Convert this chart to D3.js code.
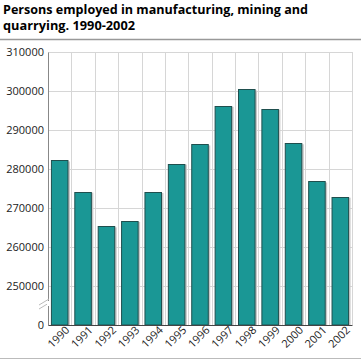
<!DOCTYPE html>
<html>
<head>
<meta charset="utf-8">
<script src="https://cdn.jsdelivr.net/npm/d3@7"></script>
<style>
  body { margin: 0; background: #fff; }
  svg { font-family: "Open Sans", "Noto Sans", sans-serif; }
</style>
</head>
<body>
<svg id="chart" width="361" height="361"></svg>
<script>
const years = ["1990", "1991", "1992", "1993", "1994", "1995", "1996", "1997", "1998", "1999", "2000", "2001", "2002"];
const employed = [282200, 274200, 265300, 266700, 274100, 281400, 286300, 296200, 300400, 295500, 286600, 276800, 272900];
const yTicks = [0, 250000, 260000, 270000, 280000, 290000, 300000, 310000];
const titleLines = ["Persons employed in manufacturing, mining and", "quarrying. 1990-2002"];

const w = 361, h = 361;
const plotLeft = 48, plotRight = 352, plotTop = 52, plotBottom = 325;

const svg = d3.select("#chart");

// title, one text per line
const titleWidths = [305, 132];
svg.append("g").selectAll("text")
  .data(titleLines)
  .enter().append("text")
  .attr("x", 3)
  .attr("y", (d, i) => 14 + i * 16)
  .attr("font-size", 12.5)
  .attr("font-weight", "bold")
  .attr("fill", "#000")
  .attr("textLength", (d, i) => titleWidths[i])
  .attr("lengthAdjust", "spacingAndGlyphs")
  .text(d => d);

svg.append("line").attr("x1", 0).attr("x2", w).attr("y1", 39.5).attr("y2", 39.5)
  .attr("stroke", "#999").attr("stroke-width", 1.5);
svg.append("line").attr("x1", 0).attr("x2", w).attr("y1", 358.5).attr("y2", 358.5)
  .attr("stroke", "#bbb").attr("stroke-width", 1);

// broken axis: 0 sits one tick below 250000
const y = d3.scaleLinear()
  .domain([0, 250000, 310000])
  .range([plotBottom, 286, plotTop]);

const x = d3.scaleBand()
  .domain(years)
  .range([plotLeft, plotRight])
  .paddingInner(0.25)
  .paddingOuter(0.125);

// grid
const grid = svg.append("g");
grid.selectAll("line.h")
  .data(yTicks.filter(d => d > 0))
  .enter().append("line")
  .attr("x1", plotLeft).attr("x2", plotRight)
  .attr("y1", d => Math.round(y(d)) + 0.5).attr("y2", d => Math.round(y(d)) + 0.5)
  .attr("stroke", "#d6d6d6");
const step = x.step();
grid.selectAll("line.v")
  .data(d3.range(years.length + 1))
  .enter().append("line")
  .attr("x1", i => Math.round(plotLeft + i * step) + 0.5)
  .attr("x2", i => Math.round(plotLeft + i * step) + 0.5)
  .attr("y1", plotTop).attr("y2", plotBottom)
  .attr("stroke", "#d6d6d6");

// bars with a faint shadow
svg.append("g").selectAll("rect")
  .data(employed)
  .enter().append("rect")
  .attr("x", (d, i) => x(years[i]) + 1.5)
  .attr("y", d => y(d) + 1)
  .attr("width", x.bandwidth())
  .attr("height", d => y(0) - y(d) - 1)
  .attr("fill", "#c8c8c8");

svg.append("g").selectAll("rect")
  .data(employed)
  .enter().append("rect")
  .attr("x", (d, i) => x(years[i]) + 0.5)
  .attr("y", d => Math.round(y(d)) + 0.5)
  .attr("width", x.bandwidth() - 1)
  .attr("height", d => y(0) - Math.round(y(d)) - 0.5)
  .attr("fill", "#1a9795")
  .attr("stroke", "#1f4f4e")
  .attr("stroke-width", 1);

// y axis
const yAxis = svg.append("g")
  .attr("transform", `translate(${plotLeft},0)`)
  .call(d3.axisLeft(y).tickValues(yTicks).tickSize(0).tickPadding(4).tickFormat(d3.format("d")));
yAxis.select(".domain").attr("stroke", "#888");
yAxis.selectAll("text").attr("font-size", 11).attr("fill", "#222").attr("font-family", "Open Sans, Noto Sans, sans-serif");

// axis break
const brk = svg.append("g").attr("stroke", "#bbb").attr("stroke-width", 1);
brk.append("line").attr("x1", 39).attr("y1", 305).attr("x2", 49).attr("y2", 299);
brk.append("line").attr("x1", 39).attr("y1", 309).attr("x2", 49).attr("y2", 303);
svg.append("rect").attr("x", plotLeft - 1).attr("y", 301).attr("width", 2).attr("height", 5).attr("fill", "#fff");

// x axis
const xAxis = svg.append("g")
  .attr("transform", `translate(0,${plotBottom})`)
  .call(d3.axisBottom(x).tickSize(0).tickPadding(6));
xAxis.select(".domain").attr("stroke", "#444");
xAxis.selectAll("text")
  .attr("font-size", 11)
  .attr("fill", "#222")
  .attr("font-family", "Open Sans, Noto Sans, sans-serif")
  .attr("text-anchor", "end")
  .attr("dx", "0.3em")
  .attr("dy", "0.5em")
  .attr("transform", "rotate(-45)");
</script>
</body>
</html>
